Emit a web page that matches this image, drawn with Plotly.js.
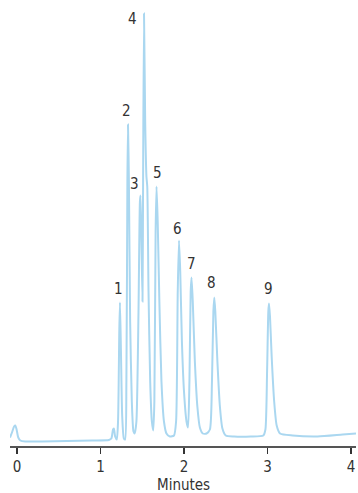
<!DOCTYPE html>
<html>
<head>
<meta charset="utf-8">
<script src="https://cdn.plot.ly/plotly-3.0.1.min.js"></script>
<style>
html,body{margin:0;padding:0;background:#fff;}
#chart{width:358px;height:493px;}
</style>
</head>
<body>
<div id="chart"></div>
<script>
// Retention time (minutes) and detector signal
const timeMin = [-0.084,-0.06,-0.035,-0.02,-0.005,0.015,0.04,0.1,0.3,0.6,0.9,1.1,1.13,1.15,1.16,1.175,1.195,1.21,1.225,1.233,1.245,1.26,1.28,1.295,1.31,1.322,1.329,1.34,1.355,1.375,1.395,1.41,1.43,1.455,1.472,1.479,1.49,1.503,1.51,1.521,1.535,1.55,1.56,1.575,1.595,1.615,1.632,1.645,1.66,1.671,1.685,1.705,1.73,1.76,1.79,1.83,1.88,1.905,1.925,1.94,1.955,1.975,2.0,2.03,2.048,2.065,2.08,2.09,2.105,2.13,2.16,2.19,2.225,2.27,2.31,2.335,2.352,2.363,2.375,2.4,2.43,2.46,2.5,2.6,2.8,2.95,2.975,2.995,3.01,3.018,3.03,3.05,3.08,3.11,3.15,3.3,3.6,3.9,4.06];
const signal = [4,9,15,16,12,4,1,0,0,0.5,1,1.5,3,12,13,5,2,20,110,139,90,25,3,2,60,260,317,260,120,40,10,8,20,130,240,246,200,140,260,428,320,265,255,150,60,20,11,40,210,255,220,140,60,20,8,5,6,20,150,201,170,100,50,20,14,60,150,164,140,80,35,14,8,8,12,60,130,144,130,80,35,13,6,5,5,6,12,70,130,138,125,85,40,16,8,6,5,7,8];

// Peak labels and where they sit (data coordinates)
const peakLabels = ["1","2","3","4","5","6","7","8","9"];
const peakLabelX = [1.21,1.317,1.413,1.389,1.677,1.928,2.084,2.335,3.006];
const peakLabelY = [153,331,258,423,269,213,178,159,153];

const xTickVals = [0,1,2,3,4];
const xTickText = ["0","1","2","3","4"];
const xTitle = "Minutes";

const FONT = "DejaVu Sans Condensed, Liberation Sans Narrow, Roboto, Arial";

const annotations = peakLabels.map((t,i)=>({
  x: peakLabelX[i], y: peakLabelY[i], text: t, showarrow: false,
  xanchor: "center", yanchor: "middle",
  font: {family: FONT, size: 15, color: "#333"}
}));
annotations.push({
  xref: "paper", yref: "paper", x: 0.5, y: -0.089, text: xTitle, showarrow: false,
  xanchor: "center", yanchor: "middle",
  font: {family: FONT, size: 15, color: "#333"}
});

Plotly.newPlot("chart", [{
  x: timeMin, y: signal, type: "scatter", mode: "lines",
  line: {color: "#aad7f0", width: 2, shape: "spline", smoothing: 0.6},
  hoverinfo: "skip"
}], {
  width: 358, height: 493,
  margin: {l: 10, r: 2, t: 10, b: 47},
  paper_bgcolor: "#fff", plot_bgcolor: "#fff",
  showlegend: false,
  xaxis: {
    range: [-0.084, 4.06], tickvals: xTickVals, ticktext: xTickText,
    showgrid: false, zeroline: false, showline: true, linecolor: "#555", linewidth: 1.5,
    ticks: "outside", ticklen: 6, tickcolor: "#333", tickwidth: 1.5,
    tickfont: {family: FONT, size: 15, color: "#333"}
  },
  yaxis: {range: [-4.5, 431.5], visible: false, showgrid: false, zeroline: false},
  annotations: annotations
}, {staticPlot: true});
</script>
</body>
</html>
